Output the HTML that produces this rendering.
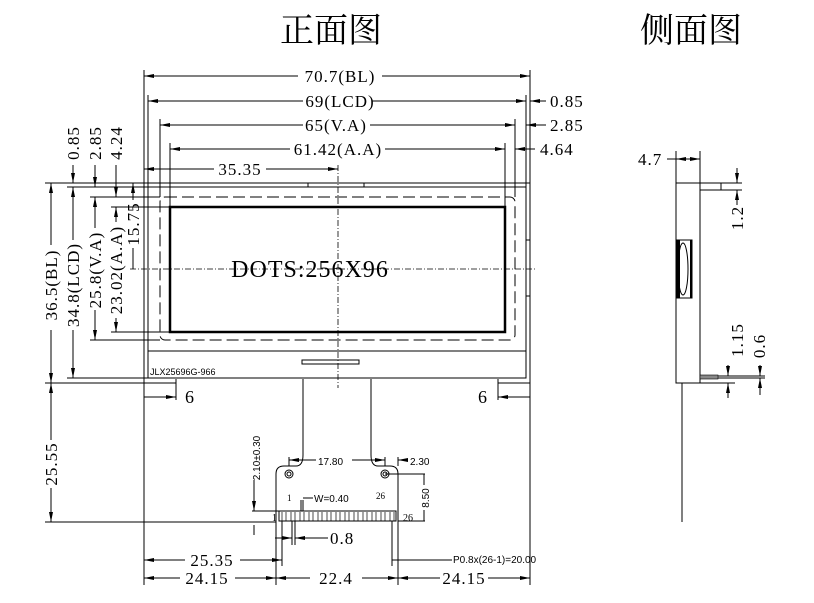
<!DOCTYPE html>
<html><head><meta charset="utf-8"><style>
html,body{margin:0;padding:0;background:#fff;width:814px;height:603px;overflow:hidden}
svg{display:block}
text{font-family:"Liberation Serif","Noto Serif CJK SC",serif;fill:#000}
.d{font-size:17px;letter-spacing:1px}
.s{font-size:10px;font-family:"Liberation Sans",sans-serif}
</style></head><body>
<svg width="814" height="603" viewBox="0 0 814 603" xmlns="http://www.w3.org/2000/svg">
<defs>
<marker id="a" viewBox="0 0 10 6" refX="10" refY="3" markerWidth="10" markerHeight="6" orient="auto-start-reverse" markerUnits="userSpaceOnUse"><path d="M0,1 L10,3 L0,5 z" fill="#000"/></marker>
</defs>
<text x="331" y="42" font-size="34" text-anchor="middle" style="font-family:'Noto Serif CJK SC','Noto Sans CJK SC',serif">正面图</text>
<text x="691" y="42" font-size="34" text-anchor="middle" style="font-family:'Noto Serif CJK SC','Noto Sans CJK SC',serif">侧面图</text>
<g stroke="#000" fill="none" stroke-width="1">
<path d="M144,383 V183 H530 V383"/>
<path d="M144,383 H176 V379 M530,383 H498 V379"/>
<rect x="148" y="187" width="378" height="191"/>
<line x1="148" y1="351" x2="526" y2="351"/>
<line x1="308" y1="183" x2="308" y2="187"/><line x1="364" y1="183" x2="364" y2="187"/>
<line x1="526" y1="240" x2="530" y2="240"/><line x1="526" y1="296" x2="530" y2="296"/>
<rect x="160" y="197" width="355" height="143" rx="5" stroke-dasharray="12,5"/>
<rect x="170" y="207" width="335" height="125" stroke-width="2.5"/>
<rect x="302" y="360" width="57" height="4"/>
<line x1="338" y1="165" x2="338" y2="388" stroke-dasharray="6,2,1,2" stroke-width="0.8"/>
<line x1="130" y1="269" x2="537" y2="269" stroke-dasharray="6,2,1,2" stroke-width="0.8"/>
<path d="M303,379 V455 Q303,466 296,466 H284 Q276,466 276,474 V521 M371,379 V455 Q371,466 378,466 H390 Q398,466 398,474 V521"/>
<rect x="279" y="511" width="117" height="10"/>
<circle cx="289" cy="474" r="4"/><circle cx="289" cy="474" r="2"/>
<circle cx="385" cy="474" r="4"/><circle cx="385" cy="474" r="2"/>
</g>
<g stroke="#000" stroke-width="0.7">
<path d="M282,512 v9 M286,512 v9 M291,512 v9 M295,512 v9 M300,512 v9 M304,512 v9 M309,512 v9 M313,512 v9 M318,512 v9 M322,512 v9 M327,512 v9 M331,512 v9 M336,512 v9 M340,512 v9 M345,512 v9 M349,512 v9 M354,512 v9 M358,512 v9 M363,512 v9 M367,512 v9 M372,512 v9 M376,512 v9 M381,512 v9 M385,512 v9 M390,512 v9 M394,512 v9"/>
</g>
<g stroke="#000" stroke-width="1" fill="none">
<line x1="144" y1="70" x2="144" y2="183"/><line x1="530" y1="70" x2="530" y2="183"/>
<line x1="148" y1="95" x2="148" y2="187"/><line x1="526" y1="95" x2="526" y2="187"/>
<line x1="160" y1="119" x2="160" y2="197"/><line x1="515" y1="119" x2="515" y2="197"/>
<line x1="170" y1="143" x2="170" y2="207"/><line x1="505" y1="143" x2="505" y2="207"/>
<line x1="144" y1="76" x2="298" y2="76" marker-start="url(#a)"/><line x1="382" y1="76" x2="530" y2="76" marker-end="url(#a)"/>
<line x1="148" y1="101" x2="303" y2="101" marker-start="url(#a)"/><line x1="372" y1="101" x2="526" y2="101" marker-end="url(#a)"/>
<line x1="530" y1="101" x2="546" y2="101" marker-start="url(#a)"/>
<line x1="160" y1="125" x2="303" y2="125" marker-start="url(#a)"/><line x1="370" y1="125" x2="515" y2="125" marker-end="url(#a)"/>
<line x1="526" y1="125" x2="546" y2="125" marker-start="url(#a)"/>
<line x1="170" y1="149" x2="290" y2="149" marker-start="url(#a)"/><line x1="385" y1="149" x2="505" y2="149" marker-end="url(#a)"/>
<line x1="515" y1="149" x2="535" y2="149" marker-start="url(#a)"/>
<line x1="144" y1="169" x2="214" y2="169" marker-start="url(#a)"/><line x1="266" y1="169" x2="338" y2="169" marker-end="url(#a)"/>
<line x1="45" y1="183" x2="144" y2="183"/><line x1="45" y1="383" x2="144" y2="383"/>
<line x1="67" y1="187" x2="148" y2="187"/><line x1="67" y1="378" x2="148" y2="378"/>
<line x1="90" y1="197" x2="160" y2="197"/><line x1="90" y1="340" x2="160" y2="340"/>
<line x1="111" y1="207" x2="170" y2="207"/><line x1="111" y1="332" x2="170" y2="332"/>
<line x1="51" y1="183" x2="51" y2="245" marker-start="url(#a)"/><line x1="51" y1="330" x2="51" y2="383" marker-end="url(#a)"/>
<line x1="73" y1="187" x2="73" y2="240" marker-start="url(#a)"/><line x1="73" y1="330" x2="73" y2="378" marker-end="url(#a)"/>
<line x1="73" y1="165" x2="73" y2="183" marker-end="url(#a)"/>
<line x1="95" y1="197" x2="95" y2="228" marker-start="url(#a)"/><line x1="95" y1="310" x2="95" y2="340" marker-end="url(#a)"/>
<line x1="95" y1="165" x2="95" y2="187" marker-end="url(#a)"/>
<line x1="116" y1="207" x2="116" y2="222" marker-start="url(#a)"/><line x1="116" y1="318" x2="116" y2="332" marker-end="url(#a)"/>
<line x1="116" y1="165" x2="116" y2="197" marker-end="url(#a)"/>
<line x1="133" y1="183" x2="133" y2="200" marker-start="url(#a)"/><line x1="133" y1="248" x2="133" y2="269"/>
<line x1="45" y1="522" x2="276" y2="522"/>
<line x1="51" y1="383" x2="51" y2="440" marker-start="url(#a)"/><line x1="51" y1="488" x2="51" y2="522" marker-end="url(#a)"/>
<line x1="144" y1="383" x2="144" y2="585"/><line x1="530" y1="383" x2="530" y2="585"/>
<line x1="176" y1="383" x2="176" y2="400"/><line x1="498" y1="383" x2="498" y2="400"/>
<line x1="144" y1="397" x2="176" y2="397" marker-end="url(#a)"/>
<line x1="498" y1="397" x2="530" y2="397" marker-start="url(#a)"/>
<line x1="276" y1="521" x2="276" y2="585"/><line x1="398" y1="521" x2="398" y2="585"/>
<line x1="282" y1="521" x2="282" y2="566"/><line x1="392" y1="521" x2="392" y2="566"/>
<line x1="144" y1="560" x2="185" y2="560" marker-start="url(#a)"/><line x1="240" y1="560" x2="282" y2="560" marker-end="url(#a)"/>
<line x1="392" y1="560" x2="452" y2="560"/>
<line x1="144" y1="578" x2="180" y2="578" marker-start="url(#a)"/><line x1="235" y1="578" x2="276" y2="578" marker-end="url(#a)"/>
<line x1="276" y1="578" x2="310" y2="578" marker-start="url(#a)"/><line x1="362" y1="578" x2="398" y2="578" marker-end="url(#a)"/>
<line x1="398" y1="578" x2="440" y2="578" marker-start="url(#a)"/><line x1="488" y1="578" x2="530" y2="578" marker-end="url(#a)"/>
<line x1="292" y1="521" x2="292" y2="545"/><line x1="295" y1="521" x2="295" y2="545"/>
<line x1="275" y1="538" x2="292" y2="538" marker-end="url(#a)"/><line x1="295" y1="538" x2="328" y2="538" marker-start="url(#a)"/>
<line x1="289" y1="466" x2="289" y2="457"/><line x1="385" y1="466" x2="385" y2="457"/>
<line x1="289" y1="460" x2="316" y2="460" marker-start="url(#a)"/><line x1="352" y1="460" x2="385" y2="460" marker-end="url(#a)"/>
<line x1="398" y1="457" x2="398" y2="466"/>
<line x1="398" y1="460" x2="408" y2="460" marker-start="url(#a)"/>
<line x1="385" y1="474" x2="425" y2="474"/><line x1="398" y1="521" x2="425" y2="521"/>
<line x1="424" y1="474" x2="424" y2="485"/><line x1="424" y1="510" x2="424" y2="521"/>
<line x1="252" y1="511" x2="279" y2="511"/><line x1="254" y1="480" x2="254" y2="511" marker-end="url(#a)"/>
<line x1="254" y1="525" x2="254" y2="535"/>
<line x1="301" y1="500" x2="301" y2="511"/><line x1="303" y1="500" x2="303" y2="511"/>
<line x1="303" y1="498" x2="313" y2="498"/>
<rect x="676" y="183" width="24" height="200"/>
<path d="M700,183 H721 V190 H700"/>
<rect x="676" y="240" width="16" height="58"/>
<ellipse cx="683" cy="269" rx="5" ry="26"/>
<line x1="682" y1="383" x2="682" y2="522"/>
<line x1="676" y1="151" x2="676" y2="183"/><line x1="700" y1="151" x2="700" y2="183"/>
<line x1="667" y1="159" x2="676" y2="159"/>
<line x1="676" y1="159" x2="700" y2="159" marker-start="url(#a)" marker-end="url(#a)"/>
<line x1="721" y1="183" x2="742" y2="183"/><line x1="721" y1="190" x2="742" y2="190"/>
<line x1="737" y1="168" x2="737" y2="183" marker-end="url(#a)"/><line x1="737" y1="190" x2="737" y2="205" marker-start="url(#a)"/>
<line x1="718" y1="376" x2="765" y2="376"/><line x1="718" y1="378" x2="765" y2="378"/>
<line x1="700" y1="383" x2="735" y2="383"/>
<line x1="728" y1="365" x2="728" y2="376" marker-end="url(#a)"/><line x1="728" y1="383" x2="728" y2="398" marker-start="url(#a)"/>
<line x1="760" y1="365" x2="760" y2="376" marker-end="url(#a)"/><line x1="760" y1="378" x2="760" y2="395" marker-start="url(#a)"/>
</g>
<rect x="700" y="375" width="18" height="4" fill="#888" stroke="#000" stroke-width="0.6"/>
<rect x="676" y="240" width="4" height="58" fill="#000"/><rect x="690" y="240" width="2" height="58" fill="#000"/>
<g class="d">
<text x="340" y="82" text-anchor="middle">70.7(BL)</text>
<text x="340" y="107" text-anchor="middle">69(LCD)</text>
<text x="336" y="131" text-anchor="middle">65(V.A)</text>
<text x="338" y="155" text-anchor="middle">61.42(A.A)</text>
<text x="240" y="175" text-anchor="middle">35.35</text>
<text x="550" y="107">0.85</text>
<text x="550" y="131">2.85</text>
<text x="540" y="155">4.64</text>
<text x="185" y="403" font-size="18">6</text>
<text x="478" y="403" font-size="18">6</text>
<text x="212" y="566" text-anchor="middle">25.35</text>
<text x="207" y="584" text-anchor="middle">24.15</text>
<text x="336" y="584" text-anchor="middle">22.4</text>
<text x="464" y="584" text-anchor="middle">24.15</text>
<text x="330" y="544">0.8</text>
<text x="638" y="165">4.7</text>
<g transform="rotate(-90)">
<text x="-285" y="57" text-anchor="middle">36.5(BL)</text>
<text x="-285" y="79" text-anchor="middle">34.8(LCD)</text>
<text x="-270" y="101" text-anchor="middle">25.8(V.A)</text>
<text x="-270" y="122" text-anchor="middle">23.02(A.A)</text>
<text x="-224" y="139" text-anchor="middle">15.75</text>
<text x="-143" y="79" text-anchor="middle">0.85</text>
<text x="-143" y="101" text-anchor="middle">2.85</text>
<text x="-143" y="122" text-anchor="middle">4.24</text>
<text x="-464" y="57" text-anchor="middle">25.55</text>
<text x="-218" y="743" text-anchor="middle">1.2</text>
<text x="-340" y="743" text-anchor="middle">1.15</text>
<text x="-346" y="765" text-anchor="middle">0.6</text>
</g>
</g>
<text x="310" y="277" text-anchor="middle" font-size="24" letter-spacing="1">DOTS:256X96</text>
<text x="150" y="375" font-size="9" style="font-family:'Liberation Sans',sans-serif">JLX25696G-966</text>
<text x="318" y="465" class="s" font-size="11">17.80</text>
<text x="410" y="465" class="s" font-size="11">2.30</text>
<text x="314" y="502" class="s">W=0.40</text>
<text x="287" y="501" font-size="9">1</text>
<text x="376" y="499" font-size="9">26</text>
<text x="272" y="521" font-size="10">1</text>
<text x="403" y="521" font-size="10">26</text>
<text x="453" y="563" class="s" font-size="9">P0.8x(26-1)=20.00</text>
<g transform="rotate(-90)">
<text x="-458" y="260" class="s" font-size="11" text-anchor="middle">2.10±0.30</text>
<text x="-498" y="429" class="s" font-size="11" text-anchor="middle">8.50</text>
</g>
</svg>
</body></html>
